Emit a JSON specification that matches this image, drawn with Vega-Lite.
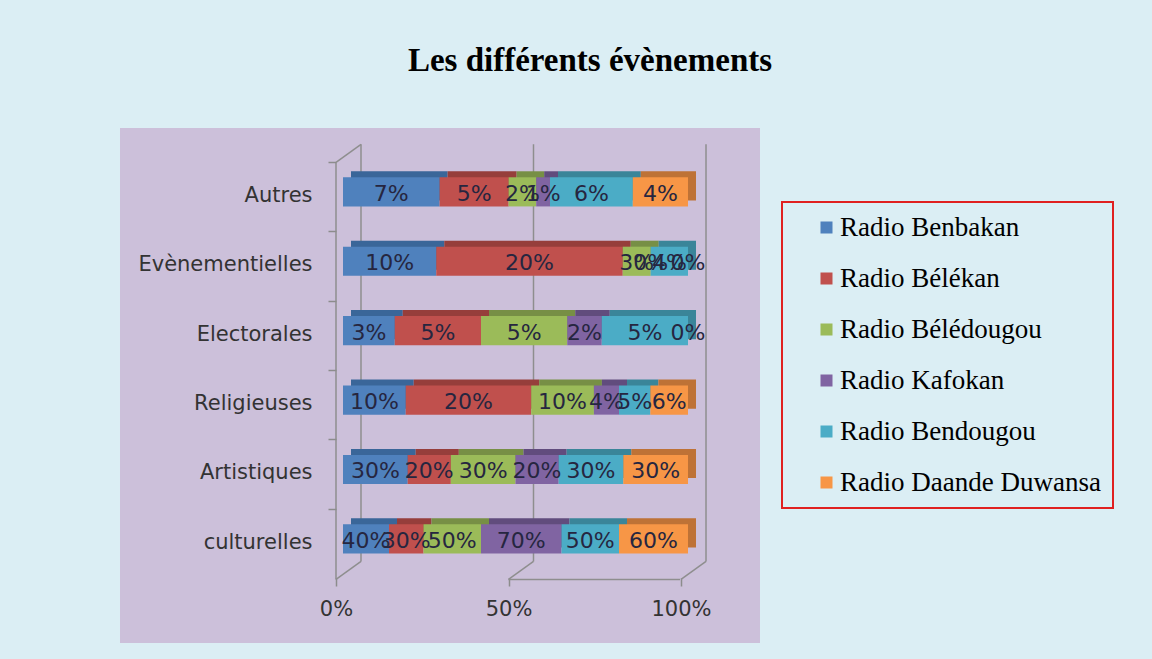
{
  "$schema": "https://vega.github.io/schema/vega-lite/v6.json",
  "width": 640,
  "height": 515,
  "autosize": {"type": "none"},
  "padding": {"left": 120, "top": 128, "right": 392, "bottom": 16},
  "background": "#DBEEF4",
  "title": {
    "text": "Les différents évènements",
    "font": "Liberation Serif",
    "fontSize": 33,
    "fontWeight": "bold",
    "color": "#000000",
    "anchor": "middle",
    "dx": 150,
    "offset": 50
  },
  "config": {
    "view": {"fill": "#CCC0DA", "stroke": null},
    "legend": {"strokeWidth": 2},
    "axis": {
      "labelFont": "DejaVu Sans",
      "labelFontSize": 21,
      "labelColor": "#333333",
      "domain": false,
      "grid": false,
      "tickColor": "#8C8C8C",
      "tickWidth": 1.5,
      "tickSize": 8,
      "title": null
    },
    "axisX": {"offset": -65, "labelPadding": 12, "tickOffset": -7},
    "axisY": {"offset": -216, "labelPadding": 16}
  },
  "datasets": {
    "walls": [
      {"g": 0, "top": "Autres", "bot": "culturelles"},
      {"g": 0.5, "top": "Autres", "bot": "culturelles"},
      {"g": 1, "top": "Autres", "bot": "culturelles"}
    ]
  },
  "data": {
    "values": [
      {"category": "Autres", "radio": "Radio Benbakan", "k": 1, "value": 0.07},
      {"category": "Autres", "radio": "Radio Bélékan", "k": 2, "value": 0.05},
      {"category": "Autres", "radio": "Radio Bélédougou", "k": 3, "value": 0.02},
      {"category": "Autres", "radio": "Radio Kafokan", "k": 4, "value": 0.01},
      {"category": "Autres", "radio": "Radio Bendougou", "k": 5, "value": 0.06},
      {"category": "Autres", "radio": "Radio Daande Duwansa", "k": 6, "value": 0.04},
      {"category": "Evènementielles", "radio": "Radio Benbakan", "k": 1, "value": 0.10},
      {"category": "Evènementielles", "radio": "Radio Bélékan", "k": 2, "value": 0.20},
      {"category": "Evènementielles", "radio": "Radio Bélédougou", "k": 3, "value": 0.03},
      {"category": "Evènementielles", "radio": "Radio Kafokan", "k": 4, "value": 0.0},
      {"category": "Evènementielles", "radio": "Radio Bendougou", "k": 5, "value": 0.04},
      {"category": "Evènementielles", "radio": "Radio Daande Duwansa", "k": 6, "value": 0.0},
      {"category": "Electorales", "radio": "Radio Benbakan", "k": 1, "value": 0.03},
      {"category": "Electorales", "radio": "Radio Bélékan", "k": 2, "value": 0.05},
      {"category": "Electorales", "radio": "Radio Bélédougou", "k": 3, "value": 0.05},
      {"category": "Electorales", "radio": "Radio Kafokan", "k": 4, "value": 0.02},
      {"category": "Electorales", "radio": "Radio Bendougou", "k": 5, "value": 0.05},
      {"category": "Electorales", "radio": "Radio Daande Duwansa", "k": 6, "value": 0.0},
      {"category": "Religieuses", "radio": "Radio Benbakan", "k": 1, "value": 0.10},
      {"category": "Religieuses", "radio": "Radio Bélékan", "k": 2, "value": 0.20},
      {"category": "Religieuses", "radio": "Radio Bélédougou", "k": 3, "value": 0.10},
      {"category": "Religieuses", "radio": "Radio Kafokan", "k": 4, "value": 0.04},
      {"category": "Religieuses", "radio": "Radio Bendougou", "k": 5, "value": 0.05},
      {"category": "Religieuses", "radio": "Radio Daande Duwansa", "k": 6, "value": 0.06},
      {"category": "Artistiques", "radio": "Radio Benbakan", "k": 1, "value": 0.30},
      {"category": "Artistiques", "radio": "Radio Bélékan", "k": 2, "value": 0.20},
      {"category": "Artistiques", "radio": "Radio Bélédougou", "k": 3, "value": 0.30},
      {"category": "Artistiques", "radio": "Radio Kafokan", "k": 4, "value": 0.20},
      {"category": "Artistiques", "radio": "Radio Bendougou", "k": 5, "value": 0.30},
      {"category": "Artistiques", "radio": "Radio Daande Duwansa", "k": 6, "value": 0.30},
      {"category": "culturelles", "radio": "Radio Benbakan", "k": 1, "value": 0.40},
      {"category": "culturelles", "radio": "Radio Bélékan", "k": 2, "value": 0.30},
      {"category": "culturelles", "radio": "Radio Bélédougou", "k": 3, "value": 0.50},
      {"category": "culturelles", "radio": "Radio Kafokan", "k": 4, "value": 0.70},
      {"category": "culturelles", "radio": "Radio Bendougou", "k": 5, "value": 0.50},
      {"category": "culturelles", "radio": "Radio Daande Duwansa", "k": 6, "value": 0.60}
    ]
  },
  "resolve": {"scale": {"color": "independent"}},
  "layer": [
    {
      "data": {"name": "walls"},
      "mark": {"type": "rule", "color": "#8E8E8E", "strokeWidth": 1.5, "xOffset": 18, "yOffset": -47.5, "y2Offset": 22.5},
      "encoding": {
        "x": {"field": "g", "type": "quantitative", "title": null},
        "y": {"field": "top", "type": "nominal", "title": null},
        "y2": {"field": "bot"}
      }
    },
    {
      "data": {"name": "walls"},
      "mark": {"type": "rule", "color": "#8E8E8E", "strokeWidth": 1.5, "xOffset": -7, "x2Offset": 18, "yOffset": 40.5, "y2Offset": 22.5},
      "encoding": {
        "x": {"field": "g", "type": "quantitative", "title": null},
        "x2": {"field": "g"},
        "y": {"field": "bot", "type": "nominal", "title": null},
        "y2": {"field": "bot"}
      }
    },
    {
      "data": {"name": "walls"},
      "transform": [{"filter": "datum.g == 0"}],
      "mark": {"type": "rule", "color": "#8E8E8E", "strokeWidth": 1.5, "xOffset": -7, "yOffset": -29.5, "y2Offset": 40.5},
      "encoding": {
        "x": {"field": "g", "type": "quantitative", "title": null},
        "y": {"field": "top", "type": "nominal", "title": null},
        "y2": {"field": "bot"}
      }
    },
    {
      "data": {"name": "walls"},
      "transform": [{"filter": "datum.g == 0"}],
      "mark": {"type": "rule", "color": "#8E8E8E", "strokeWidth": 1.5, "xOffset": -7, "x2Offset": 18, "yOffset": -29.5, "y2Offset": -47.5},
      "encoding": {
        "x": {"field": "g", "type": "quantitative", "title": null},
        "x2": {"field": "g"},
        "y": {"field": "top", "type": "nominal", "title": null},
        "y2": {"field": "top"}
      }
    },
    {
      "data": {"name": "walls"},
      "transform": [{"filter": "datum.g > 0"}],
      "mark": {"type": "rule", "color": "#8E8E8E", "strokeWidth": 1.5, "xOffset": -7, "x2Offset": -8, "yOffset": 40.5},
      "encoding": {
        "x": {"aggregate": "min", "field": "g", "type": "quantitative", "title": null},
        "x2": {"aggregate": "max", "field": "g"},
        "y": {"field": "bot", "type": "nominal", "title": null}
      }
    },
    {
      "mark": {"type": "bar", "xOffset": 8, "yOffset": -6},
      "encoding": {
        "x": {"field": "value", "type": "quantitative", "stack": "normalize", "title": null},
        "y": {"field": "category", "type": "nominal", "title": null},
        "order": {"field": "k", "type": "quantitative"},
        "color": {
          "field": "radio",
          "type": "nominal",
          "scale": {
            "domain": ["Radio Benbakan", "Radio Bélékan", "Radio Bélédougou", "Radio Kafokan", "Radio Bendougou", "Radio Daande Duwansa"],
            "range": ["#3A6699", "#963E3B", "#778F45", "#614C7D", "#3A8599", "#BE7236"]
          },
          "legend": null
        }
      }
    },
    {
      "mark": {"type": "bar"},
      "encoding": {
        "x": {
          "field": "value",
          "type": "quantitative",
          "stack": "normalize",
          "title": null,
          "scale": {"domain": [-0.6464, 1.2087], "nice": false, "zero": false},
          "axis": {"values": [0, 0.5, 1], "format": ".0%"}
        },
        "y": {
          "field": "category",
          "type": "nominal",
          "title": null,
          "scale": {
            "domain": ["Autres", "Evènementielles", "Electorales", "Religieuses", "Artistiques", "culturelles"],
            "paddingInner": 0.58,
            "paddingOuter": 1.022,
            "align": 0.355
          },
          "axis": {"bandPosition": -0.517, "labelOffset": 4}
        },
        "order": {"field": "k", "type": "quantitative"},
        "color": {
          "field": "radio",
          "type": "nominal",
          "scale": {
            "domain": ["Radio Benbakan", "Radio Bélékan", "Radio Bélédougou", "Radio Kafokan", "Radio Bendougou", "Radio Daande Duwansa"],
            "range": ["#4F81BD", "#C0504D", "#9BBB59", "#8064A2", "#4BACC6", "#F79646"]
          },
          "legend": {
            "orient": "none",
            "legendX": 662,
            "legendY": 74,
            "title": null,
            "strokeColor": "#E02020",
            "padding": 12,
            "symbolType": "square",
            "symbolSize": 144,
            "symbolStrokeWidth": 0,
            "symbolOffset": 19,
            "labelOffset": 0,
            "labelFont": "Liberation Serif",
            "labelFontSize": 27,
            "labelColor": "#000000",
            "labelLimit": 400,
            "rowPadding": 23
          }
        }
      }
    },
    {
      "mark": {"type": "text", "font": "DejaVu Sans", "fontSize": 22, "baseline": "middle", "align": "center", "dy": 2},
      "encoding": {
        "x": {"field": "value", "type": "quantitative", "stack": "normalize", "bandPosition": 0.5, "title": null},
        "y": {"field": "category", "type": "nominal", "title": null},
        "order": {"field": "k", "type": "quantitative"},
        "color": {
          "field": "radio",
          "type": "nominal",
          "scale": {
            "domain": ["Radio Benbakan", "Radio Bélékan", "Radio Bélédougou", "Radio Kafokan", "Radio Bendougou", "Radio Daande Duwansa"],
            "range": ["#262640", "#262640", "#262640", "#262640", "#262640", "#262640"]
          },
          "legend": null
        },
        "text": {"field": "value", "type": "quantitative", "format": ".0%"}
      }
    }
  ]
}
